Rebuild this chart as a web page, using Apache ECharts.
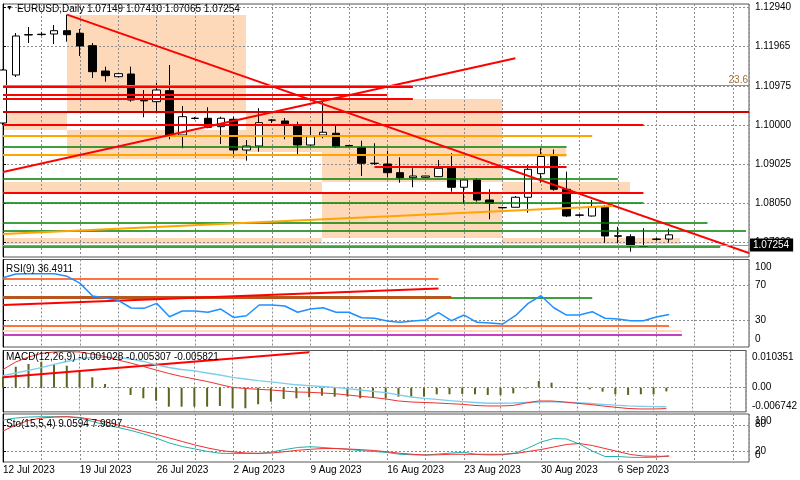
<!DOCTYPE html>
<html><head><meta charset="utf-8">
<script src="https://cdn.jsdelivr.net/npm/echarts@6/dist/echarts.min.js"></script>
<style>html,body{margin:0;padding:0;background:#fff}#c{width:800px;height:480px}</style>
</head><body><div id="c"></div>
<script>
const dateLabels = ['12 Jul 2023','19 Jul 2023','26 Jul 2023','2 Aug 2023','9 Aug 2023','16 Aug 2023','23 Aug 2023','30 Aug 2023','6 Sep 2023'];
const opens = [1.1005,1.1125,1.1225,1.1226,1.12275,1.12358,1.12293,1.11983,1.1135,1.11208,1.11275,1.10613,1.10583,1.10858,1.0975,1.10163,1.10168,1.09958,1.10143,1.09375,1.09475,1.1012,1.101,1.1,1.095,1.0975,1.09793,1.09488,1.09433,1.09045,1.09025,1.08808,1.08683,1.08693,1.08708,1.08933,1.08443,1.08625,1.08125,1.07938,1.07943,1.08193,1.08783,1.09208,1.08393,1.0775,1.07725,1.07943,1.0723,1.07208,1.0698,1.0714,1.07149];
const highs = [1.1140,1.1230,1.1245,1.1233,1.1250,1.1276,1.1240,1.1205,1.11458,1.1130,1.11458,1.10875,1.11058,1.1150,1.10475,1.1020,1.10443,1.10208,1.10208,1.09625,1.10418,1.1015,1.10175,1.10083,1.09958,1.10583,1.10025,1.0950,1.09608,1.09543,1.09358,1.09193,1.08918,1.0873,1.09125,1.09293,1.0863,1.08668,1.08393,1.0795,1.08225,1.0900,1.09418,1.09388,1.08833,1.07775,1.08125,1.0800,1.07458,1.07268,1.07418,1.0718,1.0741];
const lows = [1.1000,1.1120,1.1205,1.1223,1.12025,1.12083,1.11725,1.11175,1.11083,1.1119,1.10583,1.10193,1.10333,1.09643,1.09418,1.10138,1.09918,1.09525,1.09208,1.09108,1.09333,1.1005,1.09643,1.0925,1.09475,1.09668,1.09425,1.09463,1.08725,1.0900,1.08693,1.08558,1.08443,1.0868,1.0870,1.08333,1.08025,1.08083,1.07643,1.07913,1.0794,1.07808,1.08558,1.08358,1.0770,1.07713,1.07713,1.07058,1.07043,1.06833,1.06958,1.0711,1.07065];
const closes = [1.11375,1.12225,1.1226,1.1227,1.12358,1.12258,1.11975,1.11333,1.11233,1.11283,1.10625,1.10603,1.10875,1.0975,1.10208,1.1017,1.09943,1.10168,1.09375,1.09475,1.10058,1.10125,1.10025,1.095,1.09708,1.09818,1.09458,1.09478,1.09043,1.09038,1.08808,1.08683,1.08725,1.08725,1.08918,1.08443,1.08625,1.08125,1.08043,1.0793,1.08193,1.08893,1.09213,1.08393,1.07725,1.07745,1.07958,1.07225,1.0722,1.06975,1.0697,1.0715,1.07254];
const rsi = [79.3,83.6,84,84,84,81,73,58,55.6,53,44,43.6,49.4,33.8,40.5,40.5,39,42.8,33,35,47.5,47.5,46.3,39,42.8,44.3,39,39,32.7,32,28.8,27.3,28.8,30,38.5,29.2,35.8,27.3,26.5,25.3,35,49.4,58.3,44.3,35.8,35.8,39.7,32,31.1,29.2,29.2,33.5,36.5];
const macdHist = [0.00306,0.00584,0.0066,0.00723,0.0066,0.00612,0.00465,0.00289,0.00103,0.0001,-0.00203,-0.00295,-0.00362,-0.00529,-0.00529,-0.00529,-0.00529,-0.0051,-0.00573,-0.00573,-0.00462,-0.0039,-0.00314,-0.00295,-0.00267,-0.00223,-0.0025,-0.0025,-0.00295,-0.00278,-0.00295,-0.0025,-0.0025,-0.0025,-0.00184,-0.00184,-0.00175,-0.00184,-0.00203,-0.00203,-0.00157,-0.0002,0.00186,0.00139,0.0002,-0.0002,-0.00045,-0.0011,-0.00184,-0.00203,-0.00184,-0.00184,-0.00103];
const macdMain = [0.00334,0.00409,0.00479,0.00556,0.00646,0.00729,0.00812,0.0084,0.00846,0.00846,0.00799,0.00729,0.00632,0.00562,0.00506,0.00465,0.00409,0.00353,0.00289,0.00242,0.00195,0.00159,0.00122,0.00081,0.00056,0.00033,0.00006,-0.00028,-0.00064,-0.001,-0.00139,-0.00203,-0.00259,-0.003,-0.00328,-0.00362,-0.0039,-0.00412,-0.00434,-0.00434,-0.00426,-0.00412,-0.00398,-0.0039,-0.00406,-0.0042,-0.0044,-0.00462,-0.00487,-0.00509,-0.00518,-0.00529,-0.00531];
const macdSignal = [0.00506,0.00715,0.00854,0.00952,0.00993,0.01007,0.00993,0.00938,0.00868,0.00771,0.00687,0.0059,0.00492,0.00395,0.00312,0.00242,0.00173,0.00089,0.00006,-0.00022,-0.00045,-0.00064,-0.00092,-0.0012,-0.00128,-0.00147,-0.00167,-0.00203,-0.00239,-0.00273,-0.00314,-0.0037,-0.00398,-0.00412,-0.00426,-0.00445,-0.00462,-0.00495,-0.00509,-0.00509,-0.00495,-0.00426,-0.0037,-0.0037,-0.00398,-0.00434,-0.00467,-0.00509,-0.00545,-0.00579,-0.00593,-0.00593,-0.00582];
const stoMain = [91.6,96.2,98.5,99.2,99.2,99.2,96.2,88.2,80.1,74.3,67.4,59.3,49.4,38.5,30.5,24.7,18.9,14.8,14.3,14.3,14.3,17.8,23.5,28.2,30,28.2,25.8,23.5,20.8,18.9,16.6,12.5,11.3,10.8,13.2,15.5,17.1,12,10.8,11.3,15.5,27,40.8,48.9,47.8,36.2,20.1,7.4,7.4,5.5,5.1,5.8,9.1];
const stoSignal = [66.2,80.1,90.5,96.2,98.5,99.2,97.4,92.8,87,80.1,73.2,65.1,58.2,50.1,42,33.9,27,21.2,17.8,15.5,14.8,15.5,18.5,21.7,24,25.8,25.8,24.7,23.1,21.2,18.2,14.8,12.5,10.8,11.3,12.5,12.5,12.5,12.5,12.5,14.3,18.9,23.5,29.3,35.1,37.4,32.8,25.8,18.9,12,8.5,7.8,8.0];

const priceTicks = [1.1294,1.11965,1.10975,1.1,1.09025,1.0805,1.0706];
const rsiGrid = [70,30];
const rsiLabels = [['100',91.8],['70',70],['30',30],['0',7.8]];
const macdGrid = [0];
const macdLabels = [['0.010351',0.00846],['0.00',0],['-0.006742',-0.00529]];
const stoGrid = [80,20];
const stoLabelsA = [['100',87.7],['20',18.5]];
const stoLabelsB = [['80',81.2],['0',9.7]];

// horizontal levels [fromBar, toBar, price, color]
const hLevels = [
  [0,32,1.1096,'#FF0000'],[0,30,1.1075,'#FF0000'],[0,32,1.10668,'#FF0000'],
  [0,58.24,1.10333,'#D00000'],[0,50,1.1,'#FF0000'],[29,44,1.08958,'#FF0000'],[0,50,1.08313,'#FF0000'],
  [0,46,1.09725,'#FFA500'],[0,44,1.0925,'#FFA500'],
  [0,44,1.09458,'#008000'],[0,48,1.08668,'#008000'],[0,50,1.0805,'#008000'],
  [0,55,1.07563,'#008000'],[0,58,1.0735,'#008000'],[0,56,1.06958,'#008000']
];
// trend lines [bar1, price1, bar2, price2, color]
const trendLines = [
  [5,1.1276,58.24,1.068,'#FF0000'],
  [0,1.08825,40,1.11667,'#FF0000'],
  [0,1.07275,47.6,1.07975,'#FFA500']
];
// rectangles [bar1, bar2, priceLow, priceHigh] (drawn XOR like the terminal)
const rects = [
  [5,18.97,1.0915,1.1275],
  [24.9,38.95,1.0705,1.1065],
  [-1,24.9,1.09875,1.103],
  [18.97,24.9,1.09325,1.09875],
  [38.95,43.95,1.092,1.09425],
  [-1,48.95,1.083,1.08575],
  [-1,52.85,1.07025,1.07175]
];
const fibLevel = [1.10918,'23.6'];
const lastPrice = 1.07254;
// RSI panel objects [bar1, v1, bar2, v2, color, width]
const rsiObjects = [
  [0,56,46,56,'#008000',1.5],
  [0,56.4,35,56.4,'#B8561E',3],
  [0,77.8,34,77.8,'#FF4500',1.5],
  [0,47.5,34,66.9,'#FF0000',2],
  [0,23.3,52,23.3,'#FF4500',1.5],
  [0,17.1,53,17.1,'#FFDAB9',2],
  [0,13.3,53,13.3,'#B000B0',1.5]
];
const macdObjects = [[0,0.00289,24,0.00985,'#FF0000',2]];

const FONT = 'Liberation Sans, Arial, sans-serif';
const XMAX = 58.24;
const idx = opens.map((_, i) => i);

function xorCells(list) {
  const xs = [...new Set(list.flatMap(r => [r[0], r[1]]))].sort((a,b)=>a-b);
  const ys = [...new Set(list.flatMap(r => [r[2], r[3]]))].sort((a,b)=>a-b);
  const out = [];
  for (let j = 0; j < ys.length - 1; j++) {
    let run = null;
    for (let i = 0; i < xs.length - 1; i++) {
      const cx = (xs[i]+xs[i+1])/2, cy = (ys[j]+ys[j+1])/2;
      let n = 0;
      list.forEach(r => { if (cx>r[0]&&cx<r[1]&&cy>r[2]&&cy<r[3]) n++; });
      if (n % 2 === 1) { if (run) run[1] = xs[i+1]; else run = [xs[i], xs[i+1], ys[j], ys[j+1]]; }
      else if (run) { out.push(run); run = null; }
    }
    if (run) out.push(run);
  }
  return out;
}

const grids = [
  {left:3, right:51, top:4, height:253},
  {left:3, right:51, top:259.5, height:87.5},
  {left:3, right:51, top:350.5, height:61.4},
  {left:3, right:51, top:414, height:48}
].map(g => Object.assign(g, {show:true, borderColor:'#555', borderWidth:1, containLabel:false}));

const dash = {color:'#8c8c8c', type:[2,2], width:1};
const xAxes = [0,1,2,3].map(g => ({
  gridIndex:g, type:'value', min:0, max:XMAX, interval:3,
  axisLine:{show:false}, axisTick:{show:false},
  splitLine:{show:true, lineStyle:dash},
  axisLabel: g===3 ? {
    show:true, align:'left', margin:3, fontSize:10, fontFamily:FONT, color:'#000',
    formatter: v => { const i = Math.round(v); if (Math.abs(v-i)>0.01 || i%6) return ''; return dateLabels[i/6] || ''; }
  } : {show:false}
}));

function labelFmt(list){ return v => { let best=list[0], d=1e9; list.forEach(l=>{const dd=Math.abs(l[1]-v); if(dd<d){d=dd;best=l;}}); return best[0]; }; }
const lblStyle = {margin:6, fontSize:10, fontFamily:FONT, color:'#000', hideOverlap:false};
function yAx(grid, min, max, ticks, labels, main) {
  return {gridIndex:grid, type:'value', position:'right', min, max,
    axisLine:{show:main, lineStyle:{color:'#000'}},
    splitLine:{show:main, lineStyle:dash},
    axisTick:{show:main, length:3, customValues:ticks.length?ticks:[min], lineStyle:{color:'#000'}},
    axisLabel:Object.assign({customValues:labels.map(l=>l[1]), formatter:labelFmt(labels)}, lblStyle)};
}
const yAxes = [
  yAx(0, 1.067, 1.13025, priceTicks, priceTicks.map(p=>[p.toFixed(5),p]), true),
  yAx(1, -1.5, 100.6, rsiGrid, rsiLabels, true),
  yAx(2, -0.006742, 0.010351, macdGrid, macdLabels, true),
  yAx(3, -5.3, 105.5, stoGrid, stoLabelsA, true),
  yAx(3, -5.3, 105.5, [], stoLabelsB, false)
];

function segs(list, grid, z) {
  return {
    type:'lines', coordinateSystem:'cartesian2d', xAxisIndex:grid, yAxisIndex:grid, polyline:false, silent:true, z:z||4,
    data: list.map(o => ({coords:[[o[0],o[1]],[o[2],o[3]]], lineStyle:{color:o[4], width:o[5]||2, opacity:1}}))
  };
}

const series = [
  {
    type:'custom', xAxisIndex:0, yAxisIndex:0, z:-1, silent:true, clip:true,
    data: xorCells(rects),
    renderItem: (params, api) => {
      const p1 = api.coord([api.value(0), api.value(3)]);
      const p2 = api.coord([api.value(1), api.value(2)]);
      const x = Math.round(p1[0]), y = Math.round(p1[1]);
      return {type:'rect', shape:{x, y, width:Math.round(p2[0])-x, height:Math.round(p2[1])-y}, style:{fill:'#FDD9BA'}};
    }
  },
  {
    type:'candlestick', xAxisIndex:0, yAxisIndex:0, barWidth:8, z:3,
    data: idx.map(i => [i, opens[i], closes[i], lows[i], highs[i]]),
    itemStyle:{color:'#FFFFFF', color0:'#000000', borderColor:'#000000', borderColor0:'#000000', borderWidth:1},
    markLine:{
      silent:true, symbol:['none','none'], animation:false,
      data:[
        {yAxis:lastPrice, lineStyle:{color:'#9a9a9a', width:1, type:'solid'},
         label:{show:true, position:'end', distance:1, formatter:lastPrice.toFixed(5), backgroundColor:'#000', color:'#fff', padding:[2,4,1,3], fontSize:10, fontFamily:FONT}},
        {yAxis:fibLevel[0], lineStyle:{color:'#B8865A', width:1, type:'solid'},
         label:{show:true, position:'insideEndTop', distance:[1,0], formatter:fibLevel[1], color:'#A0703A', fontSize:10, fontFamily:FONT}}
      ]
    }
  },
  segs(hLevels.map(h => [h[0], h[2], h[1], h[2], h[3], h[3]==='#008000'?1.6:2]), 0),
  segs(trendLines.map(t => [t[0],t[1],t[2],t[3],t[4],2]), 0),
  segs(rsiObjects, 1),
  {type:'line', xAxisIndex:1, yAxisIndex:1, data:idx.map(i=>[i,rsi[i]]), showSymbol:false, z:5,
   lineStyle:{color:'#1E90FF', width:1.5}},
  {type:'bar', xAxisIndex:2, yAxisIndex:2, data:idx.map(i=>[i,macdHist[i]]), barWidth:2, z:3,
   itemStyle:{color:'#5E6420'}},
  {type:'line', xAxisIndex:2, yAxisIndex:2, data:idx.map(i=>[i,macdMain[i]]), showSymbol:false, z:5,
   lineStyle:{color:'#7CCDEB', width:1.3}},
  {type:'line', xAxisIndex:2, yAxisIndex:2, data:idx.map(i=>[i,macdSignal[i]]), showSymbol:false, z:5,
   lineStyle:{color:'#F03030', width:1}},
  segs(macdObjects, 2),
  {type:'line', xAxisIndex:3, yAxisIndex:3, data:idx.map(i=>[i,stoMain[i]]), showSymbol:false, z:5,
   lineStyle:{color:'#20B2AA', width:1}},
  {type:'line', xAxisIndex:3, yAxisIndex:3, data:idx.map(i=>[i,stoSignal[i]]), showSymbol:false, z:5,
   lineStyle:{color:'#F03030', width:1}}
];

const txt = (left, top, text, size) => ({type:'text', left, top, z:100, silent:true,
  style:{text, fill:'#000', font:(size||10)+'px '+FONT}});

const chart = echarts.init(document.getElementById('c'), null, {renderer:'canvas'});
chart.setOption({
  animation:false,
  backgroundColor:'#fff',
  grid:grids, xAxis:xAxes, yAxis:yAxes, series,
  graphic:[
    txt(6, 5, '\u25BC', 7),
    txt(17, 4, 'EURUSD,Daily 1.07149 1.07410 1.07065 1.07254', 10),
    txt(6, 264, 'RSI(9) 36.4911', 10),
    txt(6, 352, 'MACD(12,26,9) -0.001028 -0.005307 -0.005821', 10),
    txt(6, 419, 'Sto(15,5,4) 9.0594 7.9897', 10)
  ]
});
</script></body></html>
